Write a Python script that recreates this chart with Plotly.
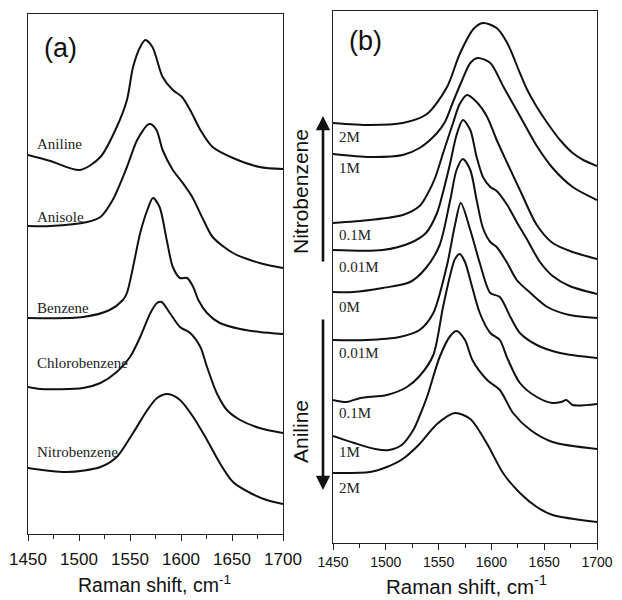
import plotly.graph_objects as go

W, H = 622, 600
OFF = 8  # page body margin of the browser: layout is placed in page pixels minus this offset

# ---------------- Panel (a) data: Raman shift (cm-1) vs intensity (a.u., stacked) ----------------
a_names = ["Aniline", "Anisole", "Benzene", "Chlorobenzene", "Nitrobenzene"]
a_label_y = [390, 317, 226, 171, 82]

aniline_x = [1450, 1472, 1501, 1521, 1537, 1547, 1553, 1560, 1565, 1572, 1582, 1592, 1601, 1609, 1619, 1631, 1651, 1677, 1700]
aniline_y = [379, 373, 364, 377, 407, 434, 467, 487, 494, 487, 457, 444, 437, 424, 404, 387, 376, 367, 365]

anisole_x = [1450, 1472, 1508, 1521, 1533, 1547, 1557, 1567, 1570, 1576, 1582, 1592, 1601, 1611, 1622, 1631, 1651, 1677, 1700]
anisole_y = [308, 308, 312, 317, 334, 367, 394, 409, 410, 404, 384, 364, 352, 337, 314, 297, 281, 271, 266]

benzene_x = [1450, 1504, 1530, 1543, 1547, 1553, 1560, 1567, 1572.5, 1579, 1586, 1592, 1599, 1606, 1612, 1617, 1625.5, 1638, 1658, 1677, 1700]
benzene_y = [216, 217, 224, 234, 241, 267, 301, 324, 336, 327, 294, 267, 256, 256, 247, 234, 221, 211, 205, 202, 200]

chloro_x = [1450, 1462, 1504, 1521, 1537, 1550, 1560, 1570, 1576.5, 1581, 1589, 1599, 1609, 1619, 1625.5, 1635, 1645, 1658, 1677, 1700]
chloro_y = [147, 145, 146, 151, 162, 177, 197, 221, 231, 232, 221, 207, 201, 187, 167, 141, 124, 114, 106, 101]

nitro_x = [1450, 1488, 1521, 1537, 1553, 1567, 1576.5, 1587, 1599, 1612, 1625.5, 1638, 1651, 1668, 1684, 1700]
nitro_y = [66, 62, 67, 77, 101, 124, 136, 140, 134, 117, 94, 71, 52, 41, 34, 30]

# ---------------- Panel (b) data ----------------
b_names = ["2M", "1M", "0.1M", "0.01M", "0M", "0.01M", "0.1M", "1M", "2M"]
b_label_y = [406, 375, 308, 276, 236, 190, 130, 91, 55]

nb2_x = [1450, 1485, 1516, 1539, 1558, 1570, 1583, 1592, 1605, 1615, 1627, 1634, 1643, 1653, 1665, 1677, 1687, 1700]
nb2_y = [420, 418, 420, 429, 456, 489, 514, 520, 515, 500, 470, 453, 436, 420, 403, 390, 383, 377]

nb1_x = [1450, 1485, 1516, 1532, 1548.5, 1556, 1564, 1572, 1580, 1587, 1599, 1611, 1627, 1643, 1658, 1677, 1700]
nb1_y = [389, 386, 388, 395, 410, 421, 442, 462, 480, 485, 480, 457, 427, 397, 375, 356, 343]

nb01_x = [1450, 1485, 1516, 1532, 1540, 1547, 1554, 1564, 1570, 1577, 1586, 1596, 1605, 1615, 1627, 1643, 1658, 1677, 1700]
nb01_y = [320, 323, 328, 337, 350, 366, 389, 421, 439, 448, 441, 426, 403, 380, 353, 318, 300, 291, 284]

nb001_x = [1450, 1497, 1523, 1538, 1548.5, 1554, 1561, 1567, 1573, 1580, 1586, 1592, 1599, 1605, 1615, 1624, 1634, 1646, 1658, 1674, 1700]
nb001_y = [293, 293, 300, 310, 330, 350, 380, 408, 423, 413, 386, 366, 356, 352, 338, 321, 303, 281, 267, 257, 249]

zero_x = [1450, 1469, 1497, 1523, 1538, 1551, 1561, 1567, 1573, 1580, 1586, 1592, 1599, 1605, 1615, 1624, 1637, 1653, 1674, 1700]
zero_y = [251, 251, 255, 261, 275, 298, 343, 373, 384, 373, 343, 315, 301, 296, 280, 263, 250, 236, 228, 225]

an001_x = [1450, 1481, 1513, 1532, 1545, 1558, 1565.5, 1571, 1580, 1589, 1599, 1608, 1618, 1627, 1643, 1665, 1700]
an001_y = [203, 203, 206, 213, 230, 278, 318, 340, 313, 280, 250, 246, 226, 210, 198, 190, 185]

an01_x = [1450, 1463, 1476, 1501, 1520, 1532, 1545, 1554, 1561, 1565.5, 1570, 1575, 1580, 1589, 1599, 1608, 1615, 1627, 1643, 1658, 1666, 1671, 1677, 1700]
an01_y = [143, 141, 145, 148, 156, 167, 188, 235, 268, 284, 289, 281, 263, 230, 210, 203, 185, 160, 146, 140, 141, 143, 138, 139]

an1_x = [1450, 1470, 1490, 1503, 1515, 1526, 1532, 1539, 1551, 1561, 1567, 1575, 1582, 1596, 1608, 1620.5, 1637, 1658, 1700]
an1_y = [107, 100, 94, 93, 98, 113, 127, 146, 186, 207, 212, 203, 183, 163, 153, 130, 113, 101, 94]

an2_x = [1450, 1485, 1501, 1516, 1532, 1548.5, 1565.5, 1580, 1596, 1611, 1627, 1643, 1658, 1700]
an2_y = [70, 71, 76, 84, 99, 119, 130, 124, 99, 70, 50, 36, 28, 21]

a_series = [(aniline_x, aniline_y), (anisole_x, anisole_y), (benzene_x, benzene_y),
            (chloro_x, chloro_y), (nitro_x, nitro_y)]
b_series = [(nb2_x, nb2_y), (nb1_x, nb1_y), (nb01_x, nb01_y), (nb001_x, nb001_y),
            (zero_x, zero_y), (an001_x, an001_y), (an01_x, an01_y), (an1_x, an1_y), (an2_x, an2_y)]

x_ticks = [1450, 1500, 1550, 1600, 1650, 1700]


def px(v):
    return (v - OFF) / W


def py(v):
    return 1 - (v - OFF) / H


fig = go.Figure()
line_style = dict(color="#111111", width=2, shape="spline", smoothing=0.8)

for (xs, ys), nm in zip(a_series, a_names):
    fig.add_trace(go.Scatter(x=xs, y=ys, mode="lines", line=line_style, name=nm,
                             xaxis="x", yaxis="y", showlegend=False))
for (xs, ys), nm in zip(b_series, b_names):
    fig.add_trace(go.Scatter(x=xs, y=ys, mode="lines", line=line_style, name=nm,
                             xaxis="x2", yaxis="y2", showlegend=False))

serif = "Liberation Serif, Times New Roman, serif"
sans = "Liberation Sans, Arial, sans-serif"

annotations = []
for nm, yv in zip(a_names, a_label_y):
    annotations.append(dict(x=1457, y=yv, xref="x", yref="y", text=nm, showarrow=False,
                            xanchor="left", yanchor="middle",
                            font=dict(family=serif, size=15, color="#222")))
for nm, yv in zip(b_names, b_label_y):
    annotations.append(dict(x=1453.5, y=yv, xref="x2", yref="y2", text=nm, showarrow=False,
                            xanchor="left", yanchor="middle",
                            font=dict(family=serif, size=15, color="#222")))

annotations.append(dict(x=px(42), y=py(48), xref="paper", yref="paper", text="(a)",
                        showarrow=False, xanchor="left", yanchor="middle",
                        font=dict(family=sans, size=27, color="#111")))
annotations.append(dict(x=px(347), y=py(41), xref="paper", yref="paper", text="(b)",
                        showarrow=False, xanchor="left", yanchor="middle",
                        font=dict(family=sans, size=27, color="#111")))

annotations.append(dict(x=px(154), y=py(584), xref="paper", yref="paper",
                        text="Raman shift, cm<sup>-1</sup>", showarrow=False,
                        xanchor="center", yanchor="middle",
                        font=dict(family=sans, size=19.5, color="#111")))
annotations.append(dict(x=px(467), y=py(585), xref="paper", yref="paper",
                        text="Raman shift, cm<sup>-1</sup>", showarrow=False,
                        xanchor="center", yanchor="middle",
                        font=dict(family=sans, size=20.5, color="#111")))

annotations.append(dict(x=px(300), y=py(192), xref="paper", yref="paper", text="Nitrobenzene",
                        showarrow=False, textangle=-90, xanchor="center", yanchor="middle",
                        font=dict(family=sans, size=21, color="#111")))
annotations.append(dict(x=px(300), y=py(432), xref="paper", yref="paper", text="Aniline",
                        showarrow=False, textangle=-90, xanchor="center", yanchor="middle",
                        font=dict(family=sans, size=21, color="#111")))

annotations.append(dict(x=px(323), y=py(116), xref="paper", yref="paper",
                        ax=0, ay=147, axref="pixel", ayref="pixel",
                        text="", showarrow=True, arrowhead=2, arrowsize=1.1, arrowwidth=2.6,
                        arrowcolor="#111"))
annotations.append(dict(x=px(323), y=py(490), xref="paper", yref="paper",
                        ax=0, ay=-172, axref="pixel", ayref="pixel",
                        text="", showarrow=True, arrowhead=2, arrowsize=1.1, arrowwidth=2.6,
                        arrowcolor="#111"))

xcommon = dict(range=[1450, 1700], tickvals=x_ticks, ticks="outside", ticklen=6, tickwidth=1.2,
               tickcolor="#222", showline=True, linecolor="#222", linewidth=1.3, mirror=True,
               showgrid=False, zeroline=False, automargin=False,
               minor=dict(dtick=25, tick0=1450, ticks="outside", ticklen=4, tickwidth=1.2,
                          tickcolor="#222", showgrid=False))
ycommon = dict(showticklabels=False, ticks="", showline=True, linecolor="#222", linewidth=1.3,
               mirror=True, showgrid=False, zeroline=False, fixedrange=True, automargin=False)

fig.update_layout(
    template="none",
    width=W, height=H,
    margin=dict(l=0, r=0, t=0, b=0, pad=0, autoexpand=False),
    paper_bgcolor="white", plot_bgcolor="white",
    xaxis=dict(domain=[px(28), px(283)], anchor="y", ticklabelstandoff=3,
               tickfont=dict(family=sans, size=17, color="#111"), **xcommon),
    yaxis=dict(domain=[py(534), py(14)], anchor="x", range=[0, 520], **ycommon),
    xaxis2=dict(domain=[px(333), px(597)], anchor="y2",
                tickfont=dict(family=sans, size=14, color="#111"), **xcommon),
    yaxis2=dict(domain=[py(543), py(11)], anchor="x2", range=[0, 532], **ycommon),
    annotations=annotations,
)

fig.write_html("out.html")
